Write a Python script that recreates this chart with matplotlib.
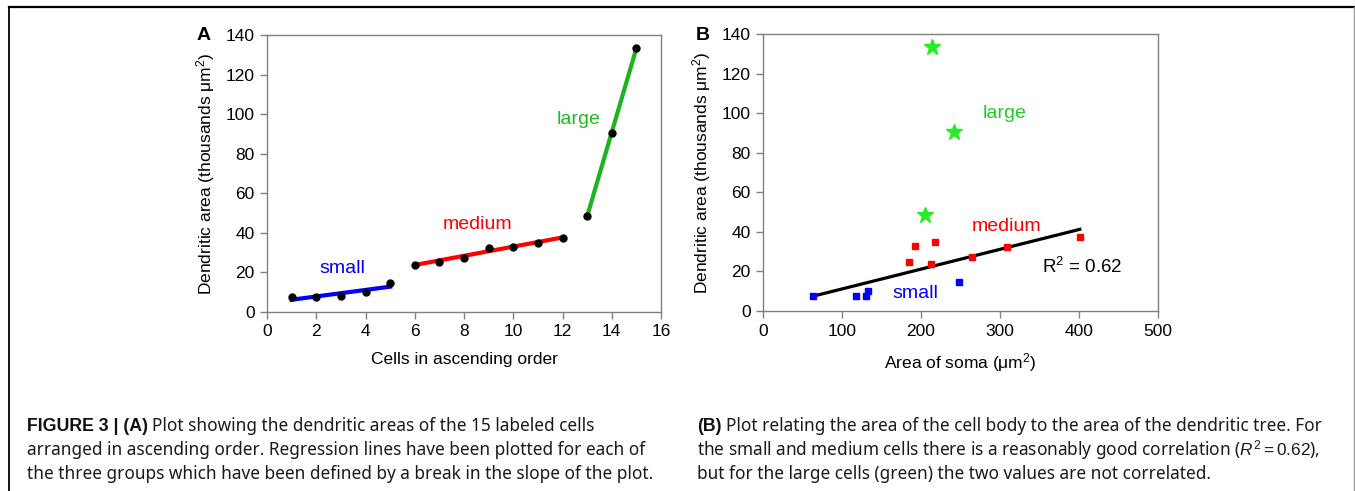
import matplotlib
matplotlib.use('Agg')
import matplotlib.pyplot as plt
import numpy as np
from matplotlib.lines import Line2D

plt.rcParams['font.family'] = ['Liberation Sans', 'DejaVu Sans']
plt.rcParams['mathtext.fontset'] = 'custom'
plt.rcParams['mathtext.rm'] = 'Liberation Sans'
plt.rcParams['mathtext.it'] = 'Liberation Sans:italic'

# panel A: dendritic areas sorted (thousands um^2)
cells = np.arange(1, 16)
dend_area = [7.5, 7.5, 8, 10, 14.5, 24, 25.5, 27.5, 32.5, 33, 35, 37.5, 48.5, 90.5, 133.5]
groups = [('small', 0, 5, 'blue'), ('medium', 5, 12, 'red'), ('large', 12, 15, '#1db31d')]

# panel B: soma area vs dendritic area
small_soma = [63, 118, 130, 133, 248]
small_dend = [7.5, 7.5, 7.5, 10, 14.5]
medium_soma = [185, 193, 213, 218, 265, 309, 401]
medium_dend = [25, 33, 24, 35, 27.5, 32.5, 37.5]
large_soma = [205, 214, 242]
large_dend = [48.5, 133.5, 90.5]

fig = plt.figure(figsize=(13.55, 4.91), dpi=100)
W, H = 1355, 491

def axes_px(l, t, r, b):
    return fig.add_axes([l / W, 1 - b / H, (r - l) / W, (b - t) / H])

def style(ax):
    for s in ax.spines.values():
        s.set_color('#808080')
        s.set_linewidth(1.0)
    ax.tick_params(direction='out', length=5, width=1, color='#808080',
                   labelsize=12.5, pad=4)
    ax.set_ylim(0, 140)
    ax.set_yticks(range(0, 141, 20))
    ax.set_ylabel('Dendritic area (thousands $\\mathrm{\\mu m^2}$)', fontsize=12.5, labelpad=6)

# ---- A ----
axA = axes_px(267, 35, 661, 312)
style(axA)
axA.set_xlim(0, 16)
axA.set_xticks(range(0, 17, 2))
for name, i0, i1, c in groups:
    x = cells[i0:i1]
    y = np.array(dend_area[i0:i1])
    k, b0 = np.polyfit(x, y, 1)
    axA.plot([x[0], x[-1]], [k * x[0] + b0, k * x[-1] + b0], color=c, lw=3, zorder=2)
axA.plot(cells, dend_area, 'o', color='black', ms=5, zorder=3)
axA.text(3.05, 22, 'small', color='blue', fontsize=14, ha='center', va='center')
axA.text(8.55, 44.4, 'medium', color='red', fontsize=14, ha='center', va='center')
axA.text(12.65, 97.4, 'large', color='#22bb22', fontsize=14, ha='center', va='center')
axA.set_xlabel('Cells in ascending order', fontsize=12.5, labelpad=9)
fig.text(204 / W, 1 - 35 / H, 'A', fontsize=14, fontweight='bold', ha='center', va='center')

# ---- B ----
axB = axes_px(763, 34, 1158, 311)
style(axB)
axB.set_xlim(0, 500)
axB.set_xticks(range(0, 501, 100))
sx = np.array(small_soma + medium_soma)
sy = np.array(small_dend + medium_dend)
k, b0 = np.polyfit(sx, sy, 1)
axB.plot([sx.min(), sx.max()], [k * sx.min() + b0, k * sx.max() + b0], color='black', lw=2.3, zorder=2)
axB.plot(small_soma, small_dend, 's', color='blue', ms=5, zorder=3)
axB.plot(medium_soma, medium_dend, 's', color='red', ms=5, zorder=3)
axB.plot(large_soma, large_dend, '*', color='#22ee22', ms=12, zorder=3)
axB.text(306, 99.7, 'large', color='#22cc22', fontsize=14, ha='center', va='center')
axB.text(308, 42.7, 'medium', color='red', fontsize=14, ha='center', va='center')
axB.text(193, 8.9, 'small', color='blue', fontsize=14, ha='center', va='center')
axB.text(404, 22.1, 'R$^2$ = 0.62', color='black', fontsize=13.5, ha='center', va='center')
axB.set_xlabel('Area of soma ($\\mathrm{\\mu m^2}$)', fontsize=12.5, labelpad=9)
fig.text(703 / W, 1 - 35 / H, 'B', fontsize=14, fontweight='bold', ha='center', va='center')

# ---- frame lines ----
fig.add_artist(Line2D([9 / W, 1], [1 - 7 / H, 1 - 7 / H], color='black', lw=1.6))
fig.add_artist(Line2D([9 / W, 9 / W], [0, 1 - 7 / H], color='black', lw=1.3))
fig.add_artist(Line2D([1353.5 / W, 1353.5 / W], [0, 1 - 7 / H], color='#999999', lw=1.0))

# ---- caption ----
cap_font = ['Noto Sans', 'DejaVu Sans']
cap_size = 12.4
capA = [('FIGURE 3 | (A)', 'Plot showing the dendritic areas of the 15 labeled cells'),
        ('', 'arranged in ascending order. Regression lines have been plotted for each of'),
        ('', 'the three groups which have been defined by a break in the slope of the plot.')]
capB = [('(B)', 'Plot relating the area of the cell body to the area of the dendritic tree. For'),
        ('', 'the small and medium cells there is a reasonably good correlation ($\\it{R}^2 = 0.62$),'),
        ('', 'but for the large cells (green) the two values are not correlated.')]

renderer = fig.canvas.get_renderer()

def cap_line(x0, y, bold, rest):
    x = x0
    if bold:
        t = fig.text(x / W, y, bold, fontsize=cap_size + 0.4, fontweight='bold',
                     family=['Liberation Sans', 'DejaVu Sans'],
                     ha='left', va='baseline', color='#111111')
        bb = t.get_window_extent(renderer)
        x = x0 + bb.width + 4
    fig.text(x / W, y, rest, fontsize=cap_size, family=cap_font,
             ha='left', va='baseline', color='#1a1a1a')

for i in range(3):
    y = 1 - (431 + 24 * i) / H
    cap_line(27, y, *capA[i])
    cap_line(697, y, *capB[i])

fig.savefig('out.png', dpi=100)
